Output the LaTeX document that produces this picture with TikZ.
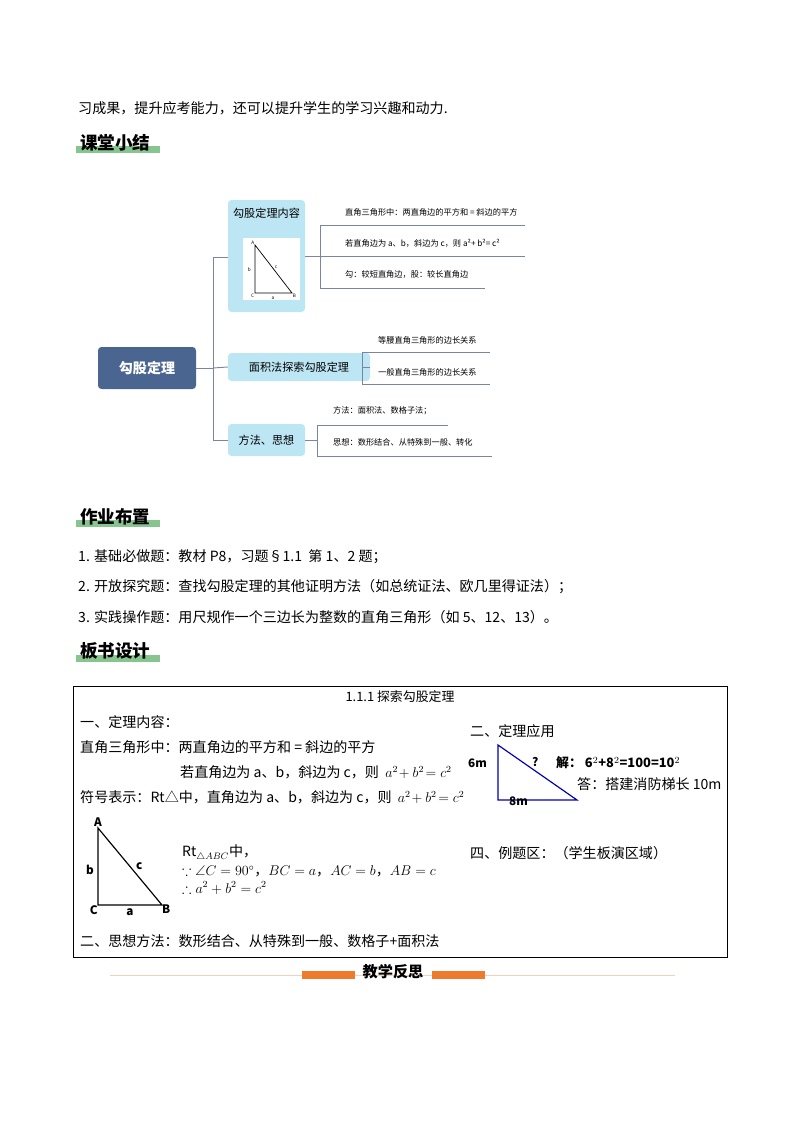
\documentclass[tikz,border=0pt]{standalone}
\usepackage{amssymb}
\usepackage{fontspec}
\setmainfont{Noto Sans CJK SC}
\usetikzlibrary{positioning}
\definecolor{rootblue}{HTML}{4A6590}
\definecolor{leafblue}{HTML}{BDE6F4}
\definecolor{linegray}{HTML}{7A86A0}
\definecolor{headgreen}{HTML}{86C58E}
\definecolor{barorange}{HTML}{EE7A2E}
\tikzset{
  txt/.style={anchor=west, inner sep=0pt, font=\fontsize{12}{14}\selectfont},
  small/.style={anchor=west, inner sep=0pt, font=\fontsize{7}{8}\selectfont},
  header/.style={anchor=west, inner sep=0pt, font=\fontsize{15}{17}\selectfont\bfseries},
  branch/.style={draw=none, fill=leafblue, rounded corners=3pt, font=\fontsize{9.5}{11}\selectfont},
  link/.style={draw=linegray, line width=0.8pt},
  tri/.style={draw=black, line width=1pt}
}
\begin{document}
\begin{tikzpicture}[x=0.3mm, y=-0.3mm]
\useasboundingbox (0,0) rectangle (800,1132);
% top line and headers
\node[txt] (intro) at (78,108) {习成果，提升应考能力，还可以提升学生的学习兴趣和动力.};
\fill[headgreen] (76,146) rectangle (160,153);
\node[header] (h1) at (80,143) {课堂小结};
% mind map
\node[fill=rootblue, rounded corners=3pt, minimum width=98*0.3mm, minimum height=42*0.3mm,
  text=white, font=\fontsize{12}{14}\selectfont\bfseries] (root) at (147,368) {勾股定理};
\node[branch, minimum width=77*0.3mm, minimum height=112*0.3mm] (b1) at (266.5,256) {};
\node[font=\fontsize{9.5}{11}\selectfont] (b1t) at (266.5,213) {勾股定理内容};
\node[fill=white, minimum width=57*0.3mm, minimum height=62*0.3mm] (pic) at (271.5,269) {};
\coordinate (pA) at (255,245); \coordinate (pC) at (255,293); \coordinate (pB) at (292,293);
\draw[line width=0.6pt] (pA) -- (pC) -- (pB) -- cycle;
\node[font=\fontsize{4}{4}\selectfont\itshape, inner sep=0.5pt, above left] at (pA) {A};
\node[font=\fontsize{4}{4}\selectfont\itshape, inner sep=0.5pt, below left] at (pC) {C};
\node[font=\fontsize{4}{4}\selectfont\itshape, inner sep=0.5pt, below right] at (pB) {B};
\node[font=\fontsize{4}{4}\selectfont\itshape, left] at (255,270) {b};
\node[font=\fontsize{4}{4}\selectfont\itshape, below] at (273,293) {a};
\node[font=\fontsize{4}{4}\selectfont\itshape, above right, inner sep=0.5pt] at (274,269) {c};
\node[branch, minimum width=142*0.3mm, minimum height=28*0.3mm] (b2) at (299,367) {面积法探索勾股定理};
\node[branch, minimum width=77*0.3mm, minimum height=32*0.3mm] (b3) at (266.5,440) {方法、思想};
\coordinate (trunk) at (213,368);
\draw[link] (root.east) -- (trunk);
\draw[link] (b1.west |- 0,257) -| (213,257) |- (b3.west);
\draw[link] (trunk) -- (b2.west);
% leaves of branch 1
\draw[link] (b1.east |- 0,256) -- (320,256);
\draw[link] (525,225) -| (320,288) -- (485,288);
\draw[link] (320,256) -- (525,256);
\node[small] (l1) at (345,212) {直角三角形中：两直角边的平方和 = 斜边的平方};
\node[small] (l2) at (345,243) {若直角边为 a、b，斜边为 c，则 a²+ b²= c²};
\node[small] (l3) at (345,274) {勾：较短直角边，股：较长直角边};
% leaves of branch 2
\draw[link] (b2.east) -- (362,367);
\draw[link] (490,352) -| (362,384) -- (490,384);
\node[small] (l4) at (378,340) {等腰直角三角形的边长关系};
\node[small] (l5) at (378,372) {一般直角三角形的边长关系};
% leaves of branch 3
\draw[link] (b3.east) -- (317,440);
\draw[link] (448,425) -| (317,456) -- (492,456);
\node[small] (l6) at (333,411) {方法：面积法、数格子法；};
\node[small] (l7) at (333,442) {思想：数形结合、从特殊到一般、转化};
% homework
\fill[headgreen] (76,520) rectangle (160,527);
\node[header] (h2) at (80,517) {作业布置};
\node[txt] (hw1) at (78,557) {1. 基础必做题：教材 P8，习题§1.1\ \ 第 1、2 题；};
\node[txt] (hw2) at (78,587) {2. 开放探究题：查找勾股定理的其他证明方法（如总统证法、欧几里得证法）；};
\node[txt] (hw3) at (78,617) {3. 实践操作题：用尺规作一个三边长为整数的直角三角形（如 5、12、13）。};
\fill[headgreen] (76,655) rectangle (160,662);
\node[header] (h3) at (80,651) {板书设计};
% board
\draw[line width=0.8pt] (73,686) rectangle (727,957);
\node[font=\fontsize{11}{13}\selectfont] (title) at (400,697) {1.1.1 探索勾股定理};
\node[txt] (s1) at (80,722) {一、定理内容：};
\node[txt] (s2) at (80,747) {直角三角形中：两直角边的平方和 = 斜边的平方};
\node[txt] (s3) at (180,772) {若直角边为 a、b，斜边为 c，则 \ $a^2\!+b^2\!=c^2$};
\node[txt] (s4) at (80,797) {符号表示：Rt△中，直角边为 a、b，斜边为 c，则 \ $a^2\!+b^2\!=c^2$};
\coordinate (A) at (98,828); \coordinate (C) at (98,905); \coordinate (B) at (162,905);
\draw[tri] (A) -- (C) -- (B) -- cycle;
\node[above, inner sep=1pt, font=\bfseries\itshape] at (A) {A};
\node[below left, inner sep=0pt, font=\bfseries\itshape] at (C) {C};
\node[below right, inner sep=0pt, font=\bfseries\itshape] at (B) {B};
\node[left, font=\bfseries\itshape] at (98,870) {b};
\node[below, font=\bfseries\itshape] at (130,905) {a};
\node[right, font=\bfseries\itshape] at (132,866) {c};
\node[txt] (r1) at (182,853) {Rt$_{\triangle ABC}$中，};
\node[txt] (r2) at (182,871) {$\because\angle C=90^\circ$，$BC=a$，$AC=b$，$AB=c$};
\node[txt] (r3) at (182,888) {$\therefore a^2+b^2=c^2$};
\node[txt] (s5) at (80,941) {二、思想方法：数形结合、从特殊到一般、数格子+面积法};
% application
\node[txt] (app) at (470,731) {二、定理应用};
\coordinate (T) at (498,745); \coordinate (L) at (498,800); \coordinate (R) at (577,800);
\draw[blue!70!black, line width=1pt] (T) -- (L) -- (R) -- cycle;
\node[txt, font=\bfseries] (six) at (468,763) {6m};
\node[txt, font=\bfseries] (q) at (532,762) {?};
\node[txt, font=\fontsize{11}{13}\selectfont\bfseries] (sol) at (556,763) {解：\ 6$^2$+8$^2$=100=10$^2$};
\node[txt, font=\bfseries] (eight) at (509,801) {8m};
\node[txt] (ans) at (577,784) {答：搭建消防梯长 10m};
\node[txt] (ex) at (470,853) {四、例题区：（学生板演区域）};
% footer
\draw[barorange!35, line width=0.8pt] (110,975) -- (675,975);
\fill[barorange] (302,971) rectangle (355,979);
\fill[barorange] (432,971) rectangle (485,979);
\node[font=\fontsize{13}{15}\selectfont\bfseries] (refl) at (393,972) {教学反思};
\end{tikzpicture}
\end{document}
